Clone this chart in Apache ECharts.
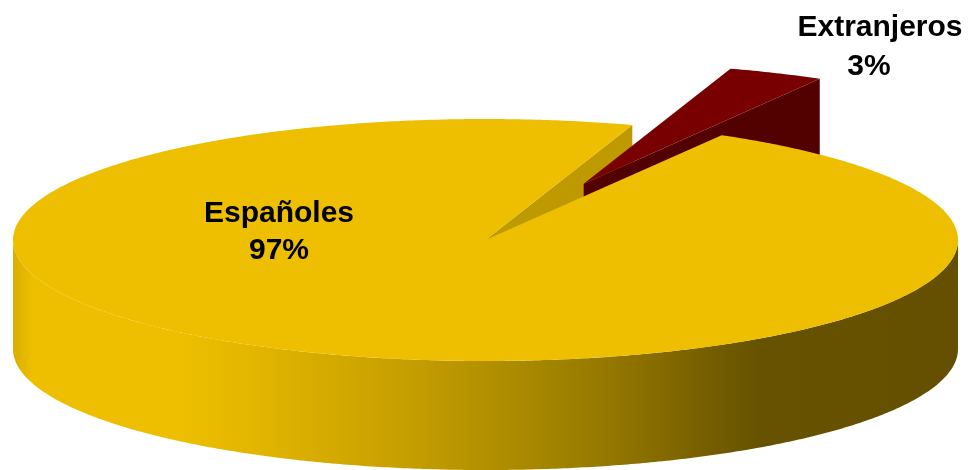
<!DOCTYPE html>
<html>
<head>
<meta charset="utf-8">
<script src="https://cdn.jsdelivr.net/npm/echarts@6/dist/echarts.min.js"></script>
<style>
html,body{margin:0;padding:0;background:#fff;}
#chart{width:978px;height:470px;}
</style>
</head>
<body>
<div id="chart"></div>
<script>
// ---- data ----
const categories = ['Españoles', 'Extranjeros'];
const values = [96.7, 3.3];

// ---- styles / layout ----
const topColors = ['#EDBF00', '#780000'];
const cutColors = ['#BF9900', '#530000'];
const wallColors = [null, '#530000'];
const explode = [0, 0.51];
// painter order: [cut wall, outer wall, top]
const layerZ = [[1, 10, 11], [2, 2, 3]];
const firstSliceStart = 71.9; // degrees, counterclockwise
const geo = { cx: 485.5, cy: 240, rx: 472.5, ry: 121, depth: 109 };
const labelStyle = [
  { lines: [{ dx: 0, dy: 0 }, { dx: 0, dy: 36.5 }], x: 279, y: 214 },
  { lines: [{ dx: 0, dy: 0 }, { dx: -11, dy: 39 }], x: 880, y: 28 }
];

const total = values.reduce((a, b) => a + b, 0);
const spans = [];
{
  let s = firstSliceStart;
  values.forEach(v => {
    const e = s + v / total * 360;
    spans.push([s, e]);
    s = e;
  });
}
const rad = d => d * Math.PI / 180;

const wallGradient = {
  type: 'linear', global: true, x: 13, y: 0, x2: 958, y2: 0,
  colorStops: [
    { offset: 0, color: '#D9AD00' },
    { offset: 0.02, color: '#EDBF00' },
    { offset: 0.18, color: '#EDBF00' },
    { offset: 0.25, color: '#E3B600' },
    { offset: 0.335, color: '#D4AA00' },
    { offset: 0.4, color: '#C9A100' },
    { offset: 0.547, color: '#A88800' },
    { offset: 0.642, color: '#917500' },
    { offset: 0.727, color: '#786000' },
    { offset: 0.79, color: '#665200' },
    { offset: 1, color: '#645000' }
  ]
};

function renderItem(params, api) {
  const i = params.dataIndex;
  const [s, e] = spans[i];
  const mid = rad((s + e) / 2);
  const ox = geo.rx * explode[i] * Math.cos(mid);
  const oy = -geo.ry * explode[i] * Math.sin(mid);
  const cx = geo.cx + ox, cy = geo.cy + oy;
  const P = (deg, down) => [cx + geo.rx * Math.cos(rad(deg)), cy - geo.ry * Math.sin(rad(deg)) + (down ? geo.depth : 0)];
  const arc = (a, b, down) => {
    const pts = [];
    const n = Math.max(2, Math.ceil(Math.abs(b - a) / 0.5));
    for (let k = 0; k <= n; k++) pts.push(P(a + (b - a) * k / n, down));
    return pts;
  };
  const z = layerZ[i];
  const children = [];
  // cut walls
  const cutWall = (deg) => ({
    type: 'polygon', z2: z[0],
    shape: { points: [[cx, cy], P(deg, false), P(deg, true), [cx, cy + geo.depth]] },
    style: { fill: cutColors[i] }
  });
  if (Math.cos(rad(s)) > 0) children.push(cutWall(s));
  if (Math.cos(rad(e)) < 0) children.push(cutWall(e));
  // outer wall (front half)
  for (let k = 0; k < 2; k++) {
    const lo = Math.max(s, 180 + 360 * k), hi = Math.min(e, 360 + 360 * k);
    if (hi > lo) {
      const pts = arc(lo, hi, false).concat(arc(hi, lo, true));
      children.push({
        type: 'polygon', z2: z[1],
        shape: { points: pts },
        style: { fill: wallColors[i] || wallGradient }
      });
    }
  }
  // top face
  children.push({
    type: 'polygon', z2: z[2],
    shape: { points: [[cx, cy]].concat(arc(s, e, false)) },
    style: { fill: topColors[i] }
  });
  // labels
  const pct = Math.round(api.value(0) / total * 100) + '%';
  const texts = [categories[i], pct];
  const ls = labelStyle[i];
  texts.forEach((t, j) => {
    children.push({
      type: 'text', z2: 100,
      x: ls.x + ls.lines[j].dx, y: ls.y + ls.lines[j].dy,
      style: {
        text: t, fill: '#000', align: 'center', verticalAlign: 'middle',
        fontSize: 30, fontWeight: 'bold', fontFamily: '"Liberation Sans", Arial, sans-serif'
      }
    });
  });
  return { type: 'group', children };
}

const chart = echarts.init(document.getElementById('chart'), null, { renderer: 'canvas' });
chart.setOption({
  animation: false,
  backgroundColor: '#fff',
  series: [{
    type: 'custom',
    coordinateSystem: 'none',
    renderItem,
    data: values.map((v, i) => ({ name: categories[i], value: v }))
  }]
});
</script>
</body>
</html>
